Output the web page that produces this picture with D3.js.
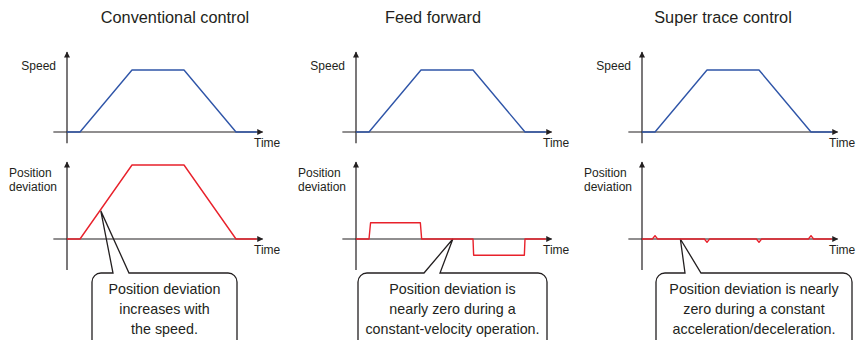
<!DOCTYPE html>
<html>
<head>
<meta charset="utf-8">
<script src="https://cdn.jsdelivr.net/npm/d3@7"></script>
<style>
  html, body { margin: 0; padding: 0; background: #fff; }
  svg { display: block; font-family: "Liberation Sans", Arial, Helvetica, sans-serif; }
</style>
</head>
<body>
<svg id="chart" width="857" height="340"></svg>
<script>
// Panel titles and callout texts
const titles = ["Conventional control", "Feed forward", "Super trace control"];
const callouts = [
  ["Position deviation", "increases with", "the speed."],
  ["Position deviation is", "nearly zero during a", "constant-velocity operation."],
  ["Position deviation is nearly", "zero during a constant", "acceleration/deceleration."]
];
const speedLabel = "Speed";
const devLabel = ["Position", "deviation"];
const timeLabel = "Time";

// Trapezoidal speed profile (time units, relative speed)
const speedT = [0, 1, 5, 9, 13, 14.6];
const speedV = [0, 0, 1, 1, 0, 0];

// Position deviation per control method
const devConvT = [0, 1, 5, 9, 13, 14.6];
const devConvV = [0, 0, 1, 1, 0, 0];

const devFFT = [0, 1, 1.12, 4.95, 5.05, 9, 9.05, 12.95, 13, 14.6];
const devFFV = [0, 0, 0.22, 0.22, 0, 0, -0.22, -0.22, 0, 0];

const devSTT = [0, 0.8, 1, 1.2, 4.8, 5, 5.2, 8.8, 9, 9.2, 12.8, 13, 13.2, 14.6];
const devSTV = [0, 0, 0.045, 0, 0, -0.045, 0, 0, -0.045, 0, 0, 0.045, 0, 0];

// Where each callout pointer touches the deviation curve (time, deviation)
const pointerT = [2.6, 7.45, 2.95];
const pointerV = [0.38, 0, 0];

const devSeries = [
  { t: devConvT, v: devConvV },
  { t: devFFT, v: devFFV },
  { t: devSTT, v: devSTV }
];

const BLUE = "#2f55a8";
const RED = "#e8212b";
const INK = "#231f20";

const svg = d3.select("#chart");

const defs = svg.append("defs");
defs.append("marker")
  .attr("id", "arrow")
  .attr("viewBox", "0 0 10 10")
  .attr("refX", 9).attr("refY", 5)
  .attr("markerUnits", "userSpaceOnUse")
  .attr("markerWidth", 7).attr("markerHeight", 6)
  .attr("orient", "auto")
  .append("path")
  .attr("d", "M0,0 L10,5 L0,10 Z")
  .attr("fill", INK);

const axisXs = [67, 356, 642];
const panelCenters = [175, 433, 723];
const boxes = [[92, 237], [358, 547], [656, 852]];

const ySpeed = d3.scaleLinear().domain([0, 1]).range([132, 70]);
const yDev = d3.scaleLinear().domain([0, 1]).range([239, 165]);

titles.forEach((title, i) => {
  const ax = axisXs[i];
  const x = d3.scaleLinear().domain([-1, 15]).range([ax - 13, ax + 195]);
  const g = svg.append("g");

  // Title
  g.append("text")
    .attr("x", panelCenters[i]).attr("y", 23)
    .attr("text-anchor", "middle")
    .attr("font-size", 16.3).attr("fill", INK)
    .text(title);

  // Callout with pointer (drawn first so axes stay visible through it)
  const [bx0, bx1] = boxes[i];
  const r = 9, top = 273, bottom = 360;
  const tipX = x(pointerT[i]), tipY = yDev(pointerV[i]);
  const base1 = [
    [bx0 + 21, top], [bx0 + 37, top],
    [bx0 + 66, top], [bx0 + 82, top],
    [bx0 + 29, top], [bx0 + 45, top]
  ];
  const p1 = base1[i * 2], p2 = base1[i * 2 + 1];
  const path = d3.path();
  path.moveTo(bx0, bottom);
  path.lineTo(bx0, top + r);
  path.arcTo(bx0, top, bx0 + r, top, r);
  path.lineTo(p1[0], p1[1]);
  path.lineTo(tipX, tipY);
  path.lineTo(p2[0], p2[1]);
  path.lineTo(bx1 - r, top);
  path.arcTo(bx1, top, bx1, top + r, r);
  path.lineTo(bx1, bottom);
  g.append("path")
    .attr("d", path.toString())
    .attr("fill", "none")
    .attr("stroke", INK)
    .attr("stroke-width", 1.3)
    .attr("stroke-linejoin", "miter");

  callouts[i].forEach((line, k) => {
    g.append("text")
      .attr("x", (bx0 + bx1) / 2).attr("y", 294 + k * 20)
      .attr("text-anchor", "middle")
      .attr("font-size", 14.3).attr("fill", INK)
      .text(line);
  });

  // Axes: speed chart
  const axisStyle = sel => sel.attr("stroke", INK).attr("stroke-width", 1.2)
    .attr("marker-end", "url(#arrow)");
  g.append("line")
    .attr("x1", x(0)).attr("x2", x(0))
    .attr("y1", ySpeed(-0.18)).attr("y2", ySpeed(1.29))
    .call(axisStyle);
  g.append("line")
    .attr("x1", x(-1.05)).attr("x2", x(15.05))
    .attr("y1", ySpeed(0)).attr("y2", ySpeed(0))
    .call(axisStyle);

  // Axes: deviation chart
  g.append("line")
    .attr("x1", x(0)).attr("x2", x(0))
    .attr("y1", yDev(-0.42)).attr("y2", yDev(1.04))
    .call(axisStyle);
  g.append("line")
    .attr("x1", x(-1.05)).attr("x2", x(15.05))
    .attr("y1", yDev(0)).attr("y2", yDev(0))
    .call(axisStyle);

  // Axis labels
  g.append("text")
    .attr("x", x(0) - 11).attr("y", 70)
    .attr("text-anchor", "end")
    .attr("font-size", 12).attr("fill", INK)
    .text(speedLabel);
  devLabel.forEach((t, k) => {
    g.append("text")
      .attr("x", x(0) - 58).attr("y", 177 + k * 14)
      .attr("font-size", 12).attr("fill", INK)
      .text(t);
  });
  g.append("text")
    .attr("x", x(15) - 8).attr("y", 147)
    .attr("font-size", 12).attr("fill", INK)
    .text(timeLabel);
  g.append("text")
    .attr("x", x(15) - 8).attr("y", 254)
    .attr("font-size", 12).attr("fill", INK)
    .text(timeLabel);

  // Speed curve
  const speedLine = d3.line().x(d => x(d[0])).y(d => ySpeed(d[1]));
  g.append("path")
    .attr("d", speedLine(d3.zip(speedT, speedV)))
    .attr("fill", "none").attr("stroke", BLUE).attr("stroke-width", 1.4)
    .attr("stroke-linejoin", "round");

  // Deviation curve
  const devLine = d3.line().x(d => x(d[0])).y(d => yDev(d[1]));
  const s = devSeries[i];
  g.append("path")
    .attr("d", devLine(d3.zip(s.t, s.v)))
    .attr("fill", "none").attr("stroke", RED).attr("stroke-width", 1.4)
    .attr("stroke-linejoin", "round");
});
</script>
</body>
</html>
